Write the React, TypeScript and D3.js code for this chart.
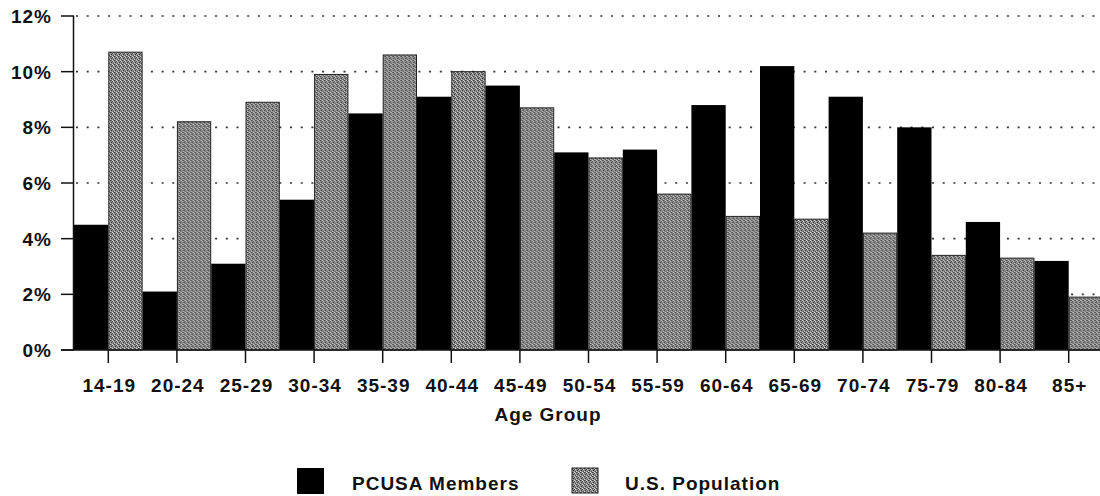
import React from "react";
import * as d3 from "d3";

const ageGroups = ["14-19", "20-24", "25-29", "30-34", "35-39", "40-44", "45-49", "50-54", "55-59", "60-64", "65-69", "70-74", "75-79", "80-84", "85+"];
const pcusaMembers = [4.5, 2.1, 3.1, 5.4, 8.5, 9.1, 9.5, 7.1, 7.2, 8.8, 10.2, 9.1, 8.0, 4.6, 3.2];
const usPopulation = [10.7, 8.2, 8.9, 9.9, 10.6, 10.0, 8.7, 6.9, 5.6, 4.8, 4.7, 4.2, 3.4, 3.3, 1.9];
const yTicks = [0, 2, 4, 6, 8, 10, 12];
const seriesNames = ["PCUSA Members", "U.S. Population"];

const W = 1100;
const H = 496;
const FONT = "'Liberation Sans', Arial, sans-serif";

export default function App() {
  const x = d3.scaleBand().domain(ageGroups).range([74, 1103]).padding(0);
  const inner = d3.scaleBand().domain(["m", "p"]).range([0, x.bandwidth()]).padding(0);
  const y = d3.scaleLinear().domain([0, 12]).range([350, 16]);

  const labelStyle = { fontFamily: FONT, fontWeight: 700, fontSize: 19, letterSpacing: 1, fill: "#111" } as const;

  return (
    <svg width={W} height={H} style={{ position: "absolute", left: 0, top: 0, background: "#fff" }}>
      <defs>
        <pattern id="dither" width="4" height="4" patternUnits="userSpaceOnUse">
          <rect width="4" height="4" fill="#8e8e8e" />
          <rect x="0" y="0" width="1" height="1" fill="#3a3a3a" />
          <rect x="2" y="1" width="1" height="1" fill="#484848" />
          <rect x="1" y="2" width="1" height="1" fill="#303030" />
          <rect x="3" y="3" width="1" height="1" fill="#505050" />
          <rect x="2" y="0" width="1" height="1" fill="#d8d8d8" />
          <rect x="0" y="3" width="1" height="1" fill="#d0d0d0" />
          <rect x="3" y="1" width="1" height="1" fill="#c8c8c8" />
          <rect x="1" y="0" width="1" height="1" fill="#707070" />
        </pattern>
      </defs>

      {/* dotted grid */}
      {yTicks.filter(t => t > 0).map(t => (
        <line key={"g" + t} x1={76} x2={W} y1={y(t)} y2={y(t)}
          stroke="#333" strokeWidth={1.6} strokeDasharray="2 8.7" />
      ))}

      {/* bars */}
      {ageGroups.map((g, i) => (
        <g key={g} transform={`translate(${x(g)},0)`}>
          <rect x={inner("m")} y={y(pcusaMembers[i])} width={inner.bandwidth()}
            height={y(0) - y(pcusaMembers[i])} fill="#000" />
          <rect x={(inner("p") as number) + 0.5} y={y(usPopulation[i])} width={inner.bandwidth() - 1}
            height={y(0) - y(usPopulation[i])} fill="url(#dither)" stroke="#222" strokeWidth={1} />
        </g>
      ))}

      {/* y axis */}
      <line x1={73.5} x2={73.5} y1={y(12)} y2={y(0)} stroke="#111" strokeWidth={1.5} />
      {yTicks.map(t => (
        <g key={"y" + t}>
          <line x1={61} x2={74} y1={y(t)} y2={y(t)} stroke="#111" strokeWidth={1.5} />
          <text x={52} y={y(t) + 7} textAnchor="end" style={labelStyle}>{t}%</text>
        </g>
      ))}

      {/* x axis */}
      <line x1={61} x2={W} y1={y(0)} y2={y(0)} stroke="#111" strokeWidth={1.5} />
      {ageGroups.map(g => {
        const cx = (x(g) as number) + x.bandwidth() / 2;
        return (
          <g key={"x" + g}>
            <line x1={cx} x2={cx} y1={y(0)} y2={y(0) + 13} stroke="#111" strokeWidth={1.5} />
            <text x={cx + 1} y={392} textAnchor="middle" style={labelStyle}>{g}</text>
          </g>
        );
      })}
      <text x={548} y={421} textAnchor="middle" style={labelStyle}>Age Group</text>

      {/* legend */}
      <rect x={297} y={468} width={27} height={26} fill="#000" />
      <text x={352} y={490} style={labelStyle}>{seriesNames[0]}</text>
      <rect x={572} y={468} width={26} height={25} fill="url(#dither)" stroke="#222" strokeWidth={1} />
      <text x={625} y={490} style={labelStyle}>{seriesNames[1]}</text>
    </svg>
  );
}
